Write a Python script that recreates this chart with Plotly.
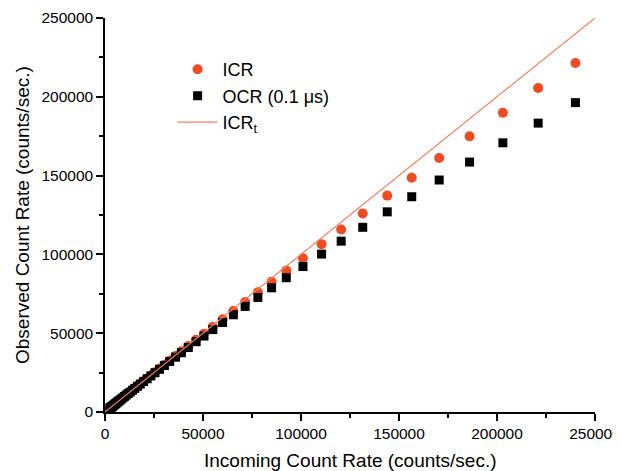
import plotly.graph_objects as go

# incoming count rate (counts/sec.) for each measurement
icr_x = [240000, 221000, 203000, 186000, 170500, 156500, 144000, 131500, 120500, 110500,
         101000, 92500, 85000, 78000, 71500, 65500, 60000, 55000, 50500, 46500,
         42500, 39000, 36000, 33000, 30300, 27800, 25500, 23400, 21500, 19700,
         18000, 16600, 15200, 14000, 12800, 11800, 10800, 9900, 9100, 8300,
         7600, 7000, 6400, 5900, 5400, 5000, 4600, 4200, 3800, 3500,
         3200, 3000, 2700, 2500]

# observed ICR (circles)
icr_y = [221400, 205600, 189900, 174900, 161200, 148600, 137300, 125900, 115800, 106500,
         97600, 89700, 82600, 76000, 69800, 64100, 58800, 54000, 49600, 45800,
         41900, 38500, 35600, 32600, 30000, 27500, 25300, 23200, 21300, 19600,
         17900, 16500, 15100, 13900, 12700, 11800, 10800, 9900, 9100, 8300,
         7600, 7000, 6400, 5900, 5400, 5000, 4600, 4200, 3800, 3500,
         3200, 3000, 2700, 2500]

# observed OCR with 0.1 us shaping (squares)
ocr_y = [196300, 183300, 170800, 158600, 147200, 136600, 127000, 117200, 108400, 100200,
         92300, 85200, 78800, 72700, 67000, 61700, 56800, 52300, 48200, 44600,
         40900, 37600, 34800, 32000, 29500, 27100, 24900, 22900, 21100, 19300,
         17700, 16300, 15000, 13800, 12600, 11700, 10700, 9800, 9000, 8200,
         7500, 6900, 6300, 5800, 5300, 4900, 4500, 4100, 3700, 3400,
         3100, 2900, 2600, 2400]

# theoretical ICR line
line_x = [0, 250000]
line_y = [0, 250000]

fig = go.Figure()
fig.add_trace(go.Scatter(
    x=icr_x, y=icr_y, mode='markers', name='ICR',
    marker=dict(symbol='circle', color='#EE4B22', size=10, line=dict(width=0))
))
fig.add_trace(go.Scatter(
    x=icr_x, y=ocr_y, mode='markers', name='OCR (0.1 \u03bcs)',
    marker=dict(symbol='square', color='black', size=9, line=dict(width=0))
))
fig.add_trace(go.Scatter(
    x=line_x, y=line_y, mode='lines', name='ICR<sub>t</sub>',
    line=dict(color='#F0805E', width=1.2)
))

axis_common = dict(
    range=[0, 250000], dtick=50000, showgrid=False, zeroline=False,
    showline=True, linecolor='black', linewidth=1.5, automargin=False,
    ticks='outside', ticklen=7, tickwidth=1.5, tickcolor='black',
    tickfont=dict(size=15.5, color='black'), ticklabeloverflow='allow',
    minor=dict(ticks='outside', ticklen=4, tickwidth=1.5, tickcolor='black', dtick=25000),
    tickformat='d'
)

fig.update_xaxes(**axis_common)
fig.update_yaxes(**axis_common)

# axis titles placed as paper annotations
fig.add_annotation(text='Incoming Count Rate (counts/sec.)', xref='paper', yref='paper',
                   x=0.5, y=0, yshift=-48, xanchor='center', yanchor='middle',
                   showarrow=False, font=dict(size=19, color='black'))
fig.add_annotation(text='Observed Count Rate (counts/sec.)', xref='paper', yref='paper',
                   x=0, y=0.5, xshift=-83, xanchor='center', yanchor='middle', textangle=-90,
                   showarrow=False, font=dict(size=19, color='black'))

fig.update_layout(
    width=613, height=463,
    margin=dict(l=97, r=26, t=10, b=59),
    paper_bgcolor='white', plot_bgcolor='white',
    font=dict(family='Liberation Sans, Arial, sans-serif', color='black'),
    legend=dict(x=0.138, y=0.916, xanchor='left', yanchor='top',
                bgcolor='rgba(0,0,0,0)', font=dict(size=18), tracegroupgap=0,
                itemwidth=40),
)

fig.write_html("out.html")
